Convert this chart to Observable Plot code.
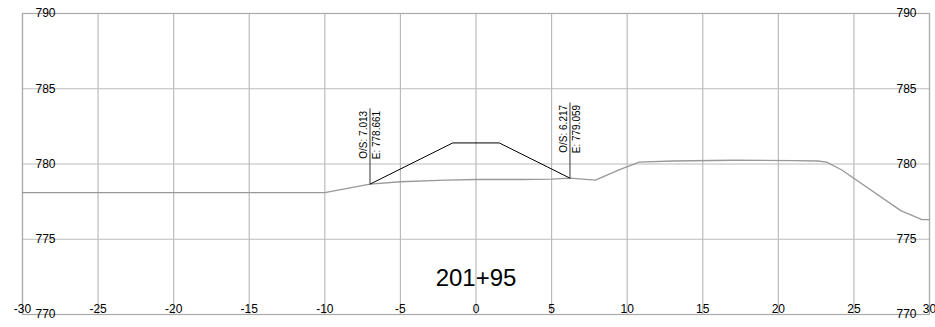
<!DOCTYPE html>
<html>
<head>
<meta charset="utf-8">
<script src="https://cdn.jsdelivr.net/npm/d3@7"></script>
<script src="https://cdn.jsdelivr.net/npm/@observablehq/plot@0.6"></script>
<style>
  html, body { margin: 0; padding: 0; background: #fff; }
  #chart svg { display: block; }
</style>
</head>
<body>
<div id="chart"></div>
<script>
// Station label
const stationLabel = "201+95";

// Tick values
const xTicks = [-30, -25, -20, -15, -10, -5, 0, 5, 10, 15, 20, 25, 30];
const yTicks = [770, 775, 780, 785, 790];

// Existing ground profile (offset, elevation)
const groundOffset = [-30, -10, -7.013, -5, -2, 0, 3, 5, 6.217, 7.9, 9.5, 10.8, 13, 17, 21, 22.6, 23.2, 24.2, 28.1, 29.5, 30];
const groundElev   = [778.1, 778.1, 778.661, 778.82, 778.93, 778.97, 778.97, 779.0, 779.059, 778.93, 779.62, 780.13, 780.2, 780.25, 780.22, 780.2, 780.12, 779.6, 776.9, 776.3, 776.3];

// Design template (offset, elevation)
const designOffset = [-7.013, -1.535, 1.535, 6.217];
const designElev   = [778.661, 781.4, 781.4, 779.059];

// Catch-point annotations
const catchOffset = [-7.013, 6.217];
const catchElev   = [778.661, 779.059];
const catchOSLabel = ["O/S: 7.013", "O/S: 6.217"];
const catchELabel  = ["E: 778.661", "E: 779.059"];

const ground = groundOffset.map((x, i) => ({x, y: groundElev[i]}));
const design = designOffset.map((x, i) => ({x, y: designElev[i]}));
const catches = catchOffset.map((x, i) => ({x, y: catchElev[i], top: catchElev[i] + 5, os: catchOSLabel[i], e: catchELabel[i]}));

const chart = Plot.plot({
  width: 935,
  height: 327,
  marginLeft: 22,
  marginRight: 6,
  marginTop: 13,
  marginBottom: 13,
  style: {fontFamily: "'Liberation Sans', Arial, Helvetica, sans-serif", fontSize: "12px", background: "#fff", color: "#000"},
  x: {domain: [-30, 30]},
  y: {domain: [770, 790]},
  marks: [
    Plot.gridX(xTicks, {stroke: "#bbb", strokeOpacity: 1, strokeWidth: 1.2}),
    Plot.gridY(yTicks, {stroke: "#bbb", strokeOpacity: 1, strokeWidth: 1.2}),
    Plot.frame({stroke: "#aaa", strokeWidth: 1.2}),
    Plot.line(ground, {x: "x", y: "y", stroke: "#999", strokeWidth: 1.3}),
    Plot.line(design, {x: "x", y: "y", stroke: "#000", strokeWidth: 1}),
    Plot.ruleX(catches, {x: "x", y1: "y", y2: "top", stroke: "#333", strokeWidth: 1}),
    Plot.text(catches, {x: "x", y: "top", text: "os", rotate: -90, textAnchor: "end", lineAnchor: "middle", dx: -6.5, dy: 2, fontSize: 10, fill: "#000"}),
    Plot.text(catches, {x: "x", y: "top", text: "e", rotate: -90, textAnchor: "end", lineAnchor: "middle", dx: 6.5, dy: 2, fontSize: 10, fill: "#000"}),
    Plot.axisY(yTicks, {anchor: "left", tickSize: 0, tickPadding: 0, textAnchor: "middle", dx: 23, label: null, fontSize: 12, fill: "#000"}),
    Plot.axisY(yTicks, {anchor: "right", tickSize: 0, tickPadding: 0, textAnchor: "middle", dx: -23, label: null, fontSize: 12, fill: "#000"}),
    Plot.axisX(xTicks, {anchor: "bottom", tickSize: 0, tickPadding: 0, lineAnchor: "bottom", dy: -2, label: null, tickFormat: d => String(d), fontSize: 12, fill: "#000"}),
    Plot.text([stationLabel], {x: 0, y: 772.4, text: d => d, fontSize: 24, fill: "#000", lineAnchor: "middle"})
  ]
});
document.getElementById("chart").appendChild(chart);
</script>
</body>
</html>
